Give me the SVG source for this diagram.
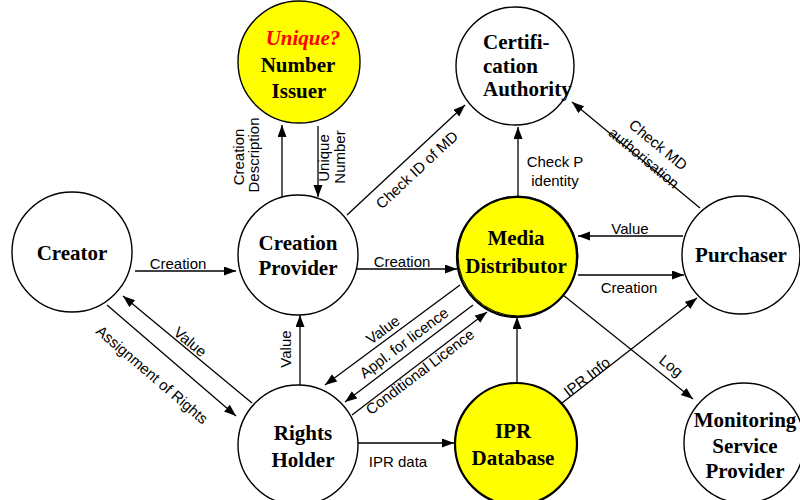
<svg xmlns="http://www.w3.org/2000/svg" width="800" height="500" viewBox="0 0 800 500">
  <style>
    .node { fill: #ffffff; stroke: #000000; stroke-width: 1.4; }
    .hi { fill: #ffff00; stroke: #000000; stroke-width: 1.4; }
    .hi2 { fill: #ffff00; stroke: #000000; stroke-width: 2.2; }
    .title { font-family: "Liberation Serif", "Times New Roman", serif; font-weight: bold; font-size: 21px; fill: #000000; text-anchor: middle; }
    .flow { stroke: #000000; stroke-width: 1.3; fill: none; marker-end: url(#arrow); }
    .lbl { font-family: "Liberation Sans", Arial, sans-serif; font-size: 15px; fill: #000000; text-anchor: middle; }
  </style>
  <defs>
    <marker id="arrow" markerUnits="userSpaceOnUse" markerWidth="13" markerHeight="10" refX="12" refY="4.5" orient="auto">
      <path d="M0,0 L12,4.5 L0,9 z" fill="#000000"/>
    </marker>
  </defs>

  <rect width="800" height="500" fill="#ffffff"/>

  <!-- connectors -->
  <g id="connectors">
    <!-- Creator -> Creation Provider -->
    <line class="flow" x1="135" y1="271" x2="236" y2="271"/>
    <text class="lbl" x="178" y="269">Creation</text>

    <!-- Creation Provider <-> Number Issuer -->
    <line class="flow" x1="282" y1="199" x2="282" y2="125"/>
    <text class="lbl" transform="translate(244,157) rotate(-90)">Creation</text>
    <text class="lbl" transform="translate(259,155) rotate(-90)">Description</text>
    <line class="flow" x1="318" y1="126" x2="318" y2="197"/>
    <text class="lbl" transform="translate(329,158) rotate(-90)">Unique</text>
    <text class="lbl" transform="translate(345,157) rotate(-90)">Number</text>

    <!-- Creation Provider -> Certification Authority -->
    <line class="flow" x1="347" y1="215" x2="465" y2="105"/>
    <text class="lbl" transform="translate(417,170) rotate(-43)" y="5">Check ID of MD</text>

    <!-- Media Distributor -> Certification Authority -->
    <line class="flow" x1="518" y1="197" x2="518" y2="127"/>
    <text class="lbl" x="555" y="167">Check P</text>
    <text class="lbl" x="555" y="186">identity</text>

    <!-- Purchaser -> Certification Authority -->
    <line class="flow" x1="700" y1="208" x2="572" y2="102"/>
    <g transform="translate(658,145) rotate(39.6)">
      <text class="lbl" x="0" y="5">Check MD</text>
      <text class="lbl" x="-2.6" y="24">authorisation</text>
    </g>

    <!-- Creation Provider -> Media Distributor -->
    <line class="flow" x1="357" y1="269" x2="457" y2="269"/>
    <text class="lbl" x="402" y="267">Creation</text>

    <!-- Purchaser <-> Media Distributor -->
    <line class="flow" x1="683" y1="236" x2="578" y2="236"/>
    <text class="lbl" x="630" y="234">Value</text>
    <line class="flow" x1="578" y1="275" x2="684" y2="275"/>
    <text class="lbl" x="629" y="293">Creation</text>

    <!-- Creator <-> Rights Holder -->
    <line class="flow" x1="252" y1="403" x2="123" y2="296"/>
    <text class="lbl" transform="translate(190,342) rotate(39.7)" y="5">Value</text>
    <line class="flow" x1="107" y1="305" x2="236" y2="416"/>
    <text class="lbl" transform="translate(152,375) rotate(40.7)" y="5">Assignment of Rights</text>

    <!-- Rights Holder -> Creation Provider -->
    <line class="flow" x1="300" y1="385" x2="300" y2="315"/>
    <text class="lbl" transform="translate(291,349) rotate(-90)">Value</text>

    <!-- Media Distributor <-> Rights Holder -->
    <line class="flow" x1="460" y1="285" x2="325" y2="385"/>
    <text class="lbl" transform="translate(383,330) rotate(-36.5)" y="5">Value</text>
    <line class="flow" x1="473" y1="305" x2="345" y2="402"/>
    <text class="lbl" transform="translate(404,343) rotate(-37)" y="5">Appl. for licence</text>
    <line class="flow" x1="352" y1="415" x2="487" y2="312"/>
    <text class="lbl" transform="translate(420,372) rotate(-37)" y="5">Conditional Licence</text>

    <!-- Rights Holder -> IPR Database -->
    <line class="flow" x1="358" y1="443" x2="454" y2="443"/>
    <text class="lbl" x="398" y="467">IPR data</text>

    <!-- IPR Database -> Media Distributor -->
    <line class="flow" x1="517" y1="383" x2="517" y2="317"/>

    <!-- IPR Database -> Purchaser -->
    <line class="flow" x1="562" y1="403" x2="697" y2="298"/>
    <text class="lbl" transform="translate(587,377) rotate(-37.9)" y="5">IPR Info</text>

    <!-- Media Distributor -> Monitoring Service Provider -->
    <line class="flow" x1="563" y1="295" x2="693" y2="399"/>
    <text class="lbl" transform="translate(671,366) rotate(38.7)" y="5">Log</text>
  </g>

  <!-- nodes -->
  <g id="creator">
    <circle class="node" cx="72" cy="252" r="60"/>
    <text class="title" x="72" y="260">Creator</text>
  </g>

  <g id="number-issuer">
    <circle class="hi" cx="299" cy="62" r="61"/>
    <text class="title" x="303" y="45" fill="#ff0000" style="fill:#ff0000;font-style:italic">Unique?</text>
    <text class="title" x="298" y="72">Number</text>
    <text class="title" x="299" y="98">Issuer</text>
  </g>

  <g id="certification-authority">
    <circle class="node" cx="515" cy="66" r="59"/>
    <text class="title" x="483" y="49" style="text-anchor:start">Certifi-</text>
    <text class="title" x="483" y="73" style="text-anchor:start">cation</text>
    <text class="title" x="483" y="96" style="text-anchor:start">Authority</text>
  </g>

  <g id="creation-provider">
    <circle class="node" cx="298" cy="255" r="60"/>
    <text class="title" x="298" y="250">Creation</text>
    <text class="title" x="298" y="275">Provider</text>
  </g>

  <g id="media-distributor">
    <circle class="hi2" cx="517" cy="257" r="60"/>
    <circle cx="518" cy="256" r="60" fill="none" stroke="#000000" stroke-width="1"/>
    <text class="title" x="516" y="245">Media</text>
    <text class="title" x="516" y="273">Distributor</text>
  </g>

  <g id="purchaser">
    <circle class="node" cx="741" cy="255" r="59"/>
    <text class="title" x="741" y="262">Purchaser</text>
  </g>

  <g id="rights-holder">
    <circle class="node" cx="298" cy="445" r="60"/>
    <text class="title" x="303" y="440">Rights</text>
    <text class="title" x="303" y="467">Holder</text>
  </g>

  <g id="ipr-database">
    <circle class="hi2" cx="516" cy="444" r="61"/>
    <text class="title" x="513" y="438">IPR</text>
    <text class="title" x="513" y="465">Database</text>
  </g>

  <g id="monitoring-service-provider">
    <circle class="node" cx="744" cy="443" r="60"/>
    <text class="title" x="745" y="427">Monitoring</text>
    <text class="title" x="745" y="453">Service</text>
    <text class="title" x="745" y="478">Provider</text>
  </g>
</svg>
